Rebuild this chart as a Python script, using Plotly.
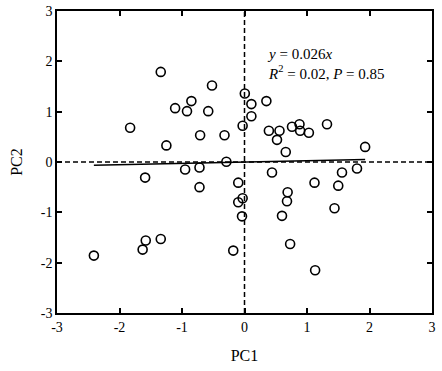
import plotly.graph_objects as go

pc1 = [-1.34, -0.52, 0.005, -0.85, -1.11, -0.92, -0.58, -1.83, -0.03, -0.71, -0.32, -1.25, -0.29,
       0.11, 0.11, 0.35, 0.39, 0.56, 0.52, 0.66, 0.76, 0.88, 0.89, 1.03, 1.32, 1.93,
       -0.95, -0.72, -1.59, -0.72, -0.10, -0.03, -0.10, -0.04, -1.58, -1.34, -1.63, -2.41, -0.18,
       0.44, 1.12, 0.69, 0.68, 0.60, 0.73, 1.13, 1.56, 1.50, 1.44, 1.80]
pc2 = [1.79, 1.52, 1.36, 1.21, 1.07, 1.01, 1.01, 0.68, 0.72, 0.53, 0.53, 0.33, 0.006,
       1.15, 0.91, 1.21, 0.62, 0.62, 0.44, 0.20, 0.70, 0.75, 0.62, 0.58, 0.75, 0.30,
       -0.15, -0.11, -0.31, -0.50, -0.41, -0.72, -0.80, -1.08, -1.56, -1.53, -1.74, -1.86, -1.76,
       -0.21, -0.41, -0.60, -0.78, -1.07, -1.63, -2.15, -0.21, -0.47, -0.92, -0.13]
slope = 0.026
ticks = [-3, -2, -1, 0, 1, 2, 3]

FONT = "Liberation Serif"

fig = go.Figure()
xmin, xmax = min(pc1), max(pc1)
fig.add_trace(go.Scatter(x=[xmin, xmax], y=[slope * xmin, slope * xmax], mode="lines",
                         line=dict(color="black", width=1.5), showlegend=False))
fig.add_trace(go.Scatter(x=pc1, y=pc2, mode="markers",
                         marker=dict(symbol="circle-open", size=9, color="black", line=dict(width=1.6)),
                         showlegend=False))

fig.add_shape(type="line", x0=0, x1=0, y0=-3, y1=3, xref="x", yref="y",
              line=dict(color="black", width=1.5, dash="5px,3px"), layer="below")
fig.add_shape(type="line", x0=-3, x1=3, y0=0, y1=0, xref="x", yref="y",
              line=dict(color="black", width=1.5, dash="5px,3px"), layer="below")

fig.add_annotation(x=0.33, y=1.95, xref="x", yref="y", xanchor="left", yanchor="middle",
                   align="left", showarrow=False,
                   text="<i>y</i> = 0.026<i>x</i><br><i>R</i><sup>2</sup> = 0.02, <i>P</i> = 0.85",
                   font=dict(family=FONT, size=15, color="black"))

axis_common = dict(range=[-3, 3], tickvals=ticks, ticktext=[str(t) for t in ticks],
                   ticks="inside", ticklen=5, tickwidth=1.5, tickcolor="black",
                   showline=True, linecolor="black", linewidth=1.5, mirror="ticks",
                   showgrid=False, zeroline=False, automargin=False,
                   tickfont=dict(family=FONT, size=14, color="black"))

fig.update_layout(
    width=442, height=371,
    margin=dict(l=57, r=10, t=11, b=58),
    plot_bgcolor="white", paper_bgcolor="white",
    font=dict(family=FONT, color="black"),
    xaxis=dict(**axis_common, title=dict(text="PC1", font=dict(family=FONT, size=16, color="black"), standoff=16)),
    yaxis=dict(**axis_common, title=dict(text="PC2", font=dict(family=FONT, size=16, color="black"), standoff=14)),
)

fig.write_html("out.html", config={"displayModeBar": False},
               post_script="document.body.style.margin='0';document.body.style.overflow='hidden';")
